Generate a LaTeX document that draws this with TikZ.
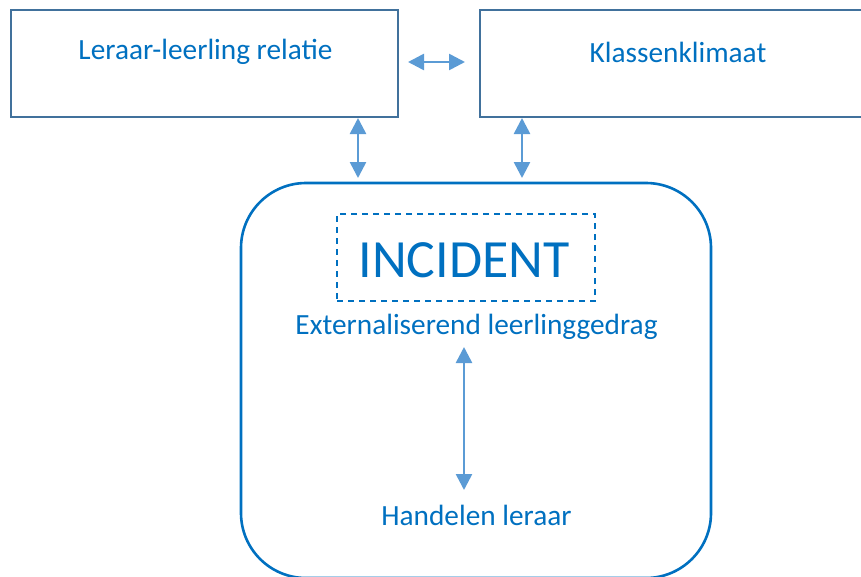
\documentclass[tikz,border=0pt]{standalone}
\usepackage{fontspec}
\setmainfont{Carlito}
\usetikzlibrary{arrows.meta}
\definecolor{boxline}{HTML}{41719C}
\definecolor{arrowc}{HTML}{5B9BD5}
\definecolor{txt}{HTML}{0070C0}
\tikzset{
  topbox/.style={draw=boxline, line width=2.2pt, minimum height=107pt, inner sep=0pt},
  dbl/.style={arrowc, line width=2.6pt, {Triangle[length=16pt,width=16pt]}-{Triangle[length=16pt,width=16pt]}},
  lbl/.style={text=txt, font=\fontsize{29.3}{33}\selectfont, inner sep=0pt},
}
\begin{document}
\begin{tikzpicture}[x=1pt,y=-1pt]
\useasboundingbox (0,0) rectangle (861,576);
\node[topbox, minimum width=387pt] (lr) at (204.5,63.5) {};
\node[lbl] (lrt) at (205.5,52) {Leraar-leerling relatie};
\node[topbox, minimum width=396pt] (kk) at (678,63.5) {};
\node[lbl] (kkt) at (678,52) {Klassenklimaat};
\draw[txt, line width=2.6pt, rounded corners=65pt] (241,578) rectangle (711,183);
\node[draw=txt, dashed, line width=1.6pt, dash pattern=on 6pt off 5pt, minimum width=258pt, minimum height=87pt, inner sep=0pt] (dash) at (466,257.5) {};
\node[text=txt, font=\fontsize{53.8}{58}\selectfont, inner sep=0pt] (inc) at (464,260) {INCIDENT};
\node[lbl] (ext) at (476.5,327) {Externaliserend leerlinggedrag};
\node[lbl] (hl) at (476.5,515) {Handelen leraar};
\coordinate (a1) at (408,62); \coordinate (a2) at (465,62);
\draw[dbl] (a1) -- (a2);
\coordinate (b1) at (358,118); \coordinate (b2) at (358,178);
\draw[dbl] (b1) -- (b2);
\coordinate (c1) at (522,118); \coordinate (c2) at (522,178);
\draw[dbl] (c1) -- (c2);
\coordinate (d1) at (464,347); \coordinate (d2) at (464,490);
\draw[dbl] (d1) -- (d2);
\end{tikzpicture}
\end{document}
